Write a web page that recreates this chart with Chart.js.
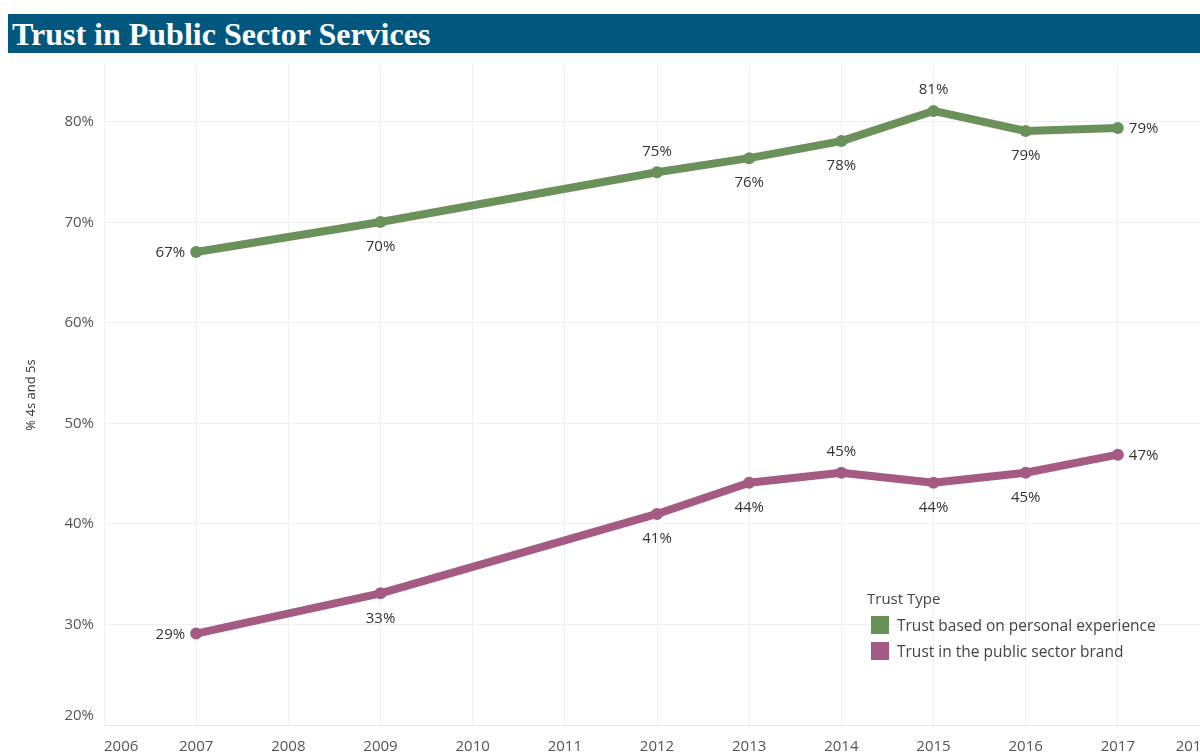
<!DOCTYPE html>
<html>
<head>
<meta charset="utf-8">
<script src="https://cdn.jsdelivr.net/npm/chart.js@4.4.1/dist/chart.umd.min.js"></script>
<style>
  html, body { margin: 0; padding: 0; background: #fff; overflow: hidden; width: 1200px; height: 753px; }
  #wrap { position: absolute; left: 0; top: 0; width: 1230px; height: 753px; }
  #title { position: absolute; left: 8px; top: 14px; width: 1192px; height: 39px; background: #02577f;
           color: #fff; font-family: "Liberation Serif", "Times New Roman", serif; font-weight: bold;
           font-size: 32px; line-height: 40px; padding-left: 4px; box-sizing: border-box; white-space: nowrap; }
  #legend { position: absolute; left: 867px; top: 588px; font-family: "Open Sans", sans-serif; font-size: 15.5px; color: #444; }
  #legend .lt { height: 20px; line-height: 20px; margin-bottom: 4px; font-size: 15px; }
  #legend .row { height: 26px; display: flex; align-items: center; }
  #legend .sw { width: 18px; height: 18px; margin-left: 4px; margin-right: 8px; }
</style>
</head>
<body>
<div id="wrap"><canvas id="c" width="1230" height="753"></canvas></div>
<div id="title">Trust in Public Sector Services</div>
<div id="legend">
  <div class="lt">Trust Type</div>
  <div class="row"><div class="sw" style="background:#6a9159"></div><span>Trust based on personal experience</span></div>
  <div class="row"><div class="sw" style="background:#a55a83"></div><span>Trust in the public sector brand</span></div>
</div>
<script>
const years = [2007, 2009, 2012, 2013, 2014, 2015, 2016, 2017];
const personalExperience = [67.06, 70.05, 75.0, 76.4, 78.1, 81.1, 79.1, 79.4];
const publicSectorBrand = [29.1, 33.1, 41.0, 44.1, 45.1, 44.1, 45.1, 46.9];
const seriesNames = ['Trust based on personal experience', 'Trust in the public sector brand'];
const yTicks = [20, 30, 40, 50, 60, 70, 80];
const xTickYears = [2006, 2007, 2008, 2009, 2010, 2011, 2012, 2013, 2014, 2015, 2016, 2017, 2018];
// label placement per point (l=left, r=right, a=above, b=below)
const personalLabelPos = ['l', 'b', 'a', 'b', 'b', 'a', 'b', 'r'];
const brandLabelPos = ['l', 'b', 'b', 'b', 'a', 'b', 'b', 'r'];

const GREEN = '#6a9159', PURPLE = '#a55a83';
const FONT = '"Open Sans", sans-serif';

const toPts = vals => years.map((x, i) => ({x: x, y: vals[i]}));

const labelPlugin = {
  id: 'pointLabels',
  afterDatasetsDraw(chart) {
    const ctx = chart.ctx;
    const posSets = [personalLabelPos, brandLabelPos];
    ctx.save();
    ctx.font = '15px ' + FONT;
    ctx.fillStyle = '#333';
    chart.data.datasets.forEach((ds, di) => {
      const meta = chart.getDatasetMeta(di);
      meta.data.forEach((pt, i) => {
        const txt = Math.round(ds.data[i].y) + '%';
        const p = posSets[di][i];
        let x = pt.x, y = pt.y;
        ctx.textBaseline = 'middle';
        if (p === 'l') { ctx.textAlign = 'right'; x -= 11; y += 1; }
        else if (p === 'r') { ctx.textAlign = 'left'; x += 11; y += 1; }
        else if (p === 'a') { ctx.textAlign = 'center'; y -= 21; }
        else { ctx.textAlign = 'center'; y += 25; }
        ctx.fillText(txt, x, y);
      });
    });
    ctx.restore();
  }
};

new Chart(document.getElementById('c'), {
  type: 'line',
  data: {
    datasets: [
      { label: seriesNames[0], data: toPts(personalExperience), borderColor: GREEN, backgroundColor: GREEN,
        borderWidth: 8, pointRadius: 6, pointHoverRadius: 6, pointBorderWidth: 0, tension: 0, borderCapStyle: 'round', borderJoinStyle: 'round' },
      { label: seriesNames[1], data: toPts(publicSectorBrand), borderColor: PURPLE, backgroundColor: PURPLE,
        borderWidth: 8, pointRadius: 6, pointHoverRadius: 6, pointBorderWidth: 0, tension: 0, borderCapStyle: 'round', borderJoinStyle: 'round' }
    ]
  },
  options: {
    responsive: false,
    animation: false,
    events: [],
    layout: { padding: { top: 65, left: 0, right: 20, bottom: 0 } },
    plugins: { legend: { display: false }, tooltip: { enabled: false } },
    scales: {
      x: {
        type: 'linear', min: xTickYears[0], max: xTickYears[xTickYears.length - 1],
        afterBuildTicks: s => { s.ticks = xTickYears.map(v => ({value: v})); },
        afterFit: s => { s.height = 28; },
        grid: { color: '#efefef', drawTicks: false, lineWidth: 1 },
        border: { color: '#e6e6e6' },
        ticks: { align: 'inner', padding: 13, color: '#555', font: { family: FONT, size: 15 }, callback: v => String(v), maxRotation: 0, autoSkip: false }
      },
      y: {
        type: 'linear', min: 20, max: 85.67,
        afterBuildTicks: s => { s.ticks = yTicks.map(v => ({value: v})); },
        afterFit: s => { s.width = 104; },
        grid: { color: '#efefef', drawTicks: false, lineWidth: 1 },
        border: { display: false },
        title: { display: true, text: '% 4s and 5s', color: '#333', font: { family: FONT, size: 13 }, padding: { top: 23, bottom: 0 } },
        ticks: { padding: 10, color: '#555', font: { family: FONT, size: 15 },
                 callback: v => v === 20 ? ['20%', ''] : v + '%' }
      }
    }
  },
  plugins: [labelPlugin]
});
</script>
</body>
</html>
